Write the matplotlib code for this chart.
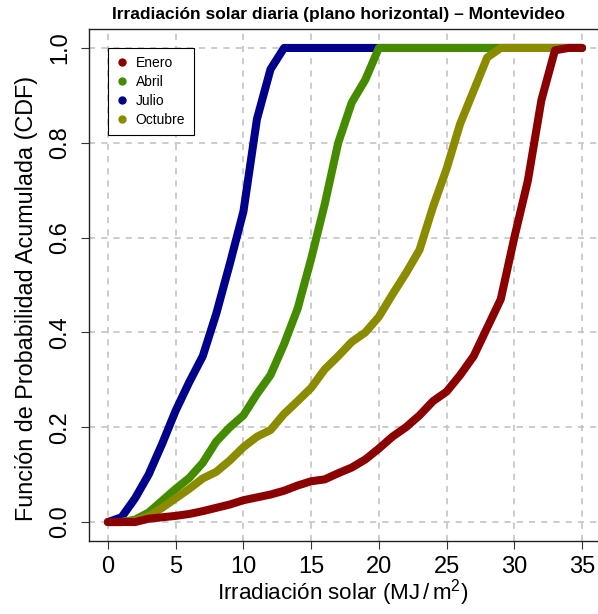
import matplotlib
matplotlib.use('Agg')
import matplotlib.pyplot as plt
from matplotlib.lines import Line2D
import numpy as np

plt.rcParams['font.family'] = ['Liberation Sans', 'DejaVu Sans']
plt.rcParams['mathtext.fontset'] = 'custom'
plt.rcParams['mathtext.rm'] = 'Liberation Sans'
plt.rcParams['mathtext.it'] = 'Liberation Sans:italic'

# irradiacion diaria (MJ/m2), un punto por unidad
irradiacion = list(range(0, 36))

enero = [0, 0, 0, 0.007, 0.01, 0.013, 0.017, 0.023, 0.03, 0.037, 0.046, 0.052,
         0.058, 0.066, 0.077, 0.086, 0.09, 0.103, 0.115, 0.132, 0.155, 0.18,
         0.2, 0.225, 0.255, 0.275, 0.31, 0.35, 0.41, 0.47, 0.6, 0.72, 0.89,
         0.995, 1.0, 1.0]
abril = [0, 0, 0.005, 0.02, 0.045, 0.07, 0.093, 0.125, 0.17, 0.2, 0.225, 0.27,
         0.31, 0.375, 0.45, 0.555, 0.67, 0.8, 0.885, 0.933, 1.0, 1.0, 1.0, 1.0,
         1.0, 1.0, 1.0, 1.0, 1.0, 1.0, 1.0, 1.0, 1.0, 1.0, 1.0, 1.0]
julio = [0, 0.01, 0.05, 0.10, 0.165, 0.235, 0.295, 0.35, 0.44, 0.545, 0.655,
         0.85, 0.955, 1.0, 1.0, 1.0, 1.0, 1.0, 1.0, 1.0, 1.0, 1.0, 1.0, 1.0,
         1.0, 1.0, 1.0, 1.0, 1.0, 1.0, 1.0, 1.0, 1.0, 1.0, 1.0, 1.0]
octubre = [0, 0, 0.003, 0.012, 0.03, 0.05, 0.07, 0.092, 0.106, 0.13, 0.158,
           0.18, 0.194, 0.228, 0.255, 0.283, 0.322, 0.35, 0.38, 0.4, 0.433,
           0.48, 0.525, 0.574, 0.665, 0.745, 0.84, 0.91, 0.98, 1.0, 1.0, 1.0,
           1.0, 1.0, 1.0, 1.0]

meses = ['Enero', 'Abril', 'Julio', 'Octubre']
colores = {'Enero': '#8B0000', 'Abril': '#458B00', 'Julio': '#00008B',
           'Octubre': '#8B8B00'}
series = {'Enero': enero, 'Abril': abril, 'Julio': julio, 'Octubre': octubre}
orden_dibujo = ['Julio', 'Abril', 'Octubre', 'Enero']

W, H = 598, 614
fig = plt.figure(figsize=(W / 100, H / 100), dpi=100)
ax = fig.add_axes([89 / W, (H - 541) / H, 512 / W, 512 / H])

ax.set_xlim(-1.4, 36.4)
ax.set_ylim(-0.04, 1.04)
ax.set_xticks(np.arange(0, 36, 5))
ax.set_yticks(np.arange(0, 1.01, 0.2))
ax.set_yticklabels(['%.1f' % v for v in np.arange(0, 1.01, 0.2)],
                   rotation=90, va='center')
ax.grid(True, color='#BEBEBE', linestyle=(0, (4, 4)), linewidth=1.1)
ax.set_axisbelow(True)

for m in orden_dibujo:
    ax.plot(irradiacion, series[m], color=colores[m], lw=5.8,
            solid_capstyle='round', solid_joinstyle='round')

ax.tick_params(labelsize=17, length=6, width=0.8, color='#333333', pad=5)
ax.tick_params(axis='y', pad=7)
for s in ax.spines.values():
    s.set_color('#222222')
    s.set_linewidth(1.0)

handles = [Line2D([], [], marker='o', linestyle='', color=colores[m],
                  markersize=5) for m in meses]
leg = ax.legend(handles, meses, loc='upper left', bbox_to_anchor=(0, 1.0),
                bbox_transform=ax.transData, borderaxespad=0, fontsize=10,
                fancybox=False, framealpha=1, edgecolor='black',
                handlelength=0.8, handletextpad=0.6, labelspacing=0.35,
                borderpad=0.6)
leg.get_frame().set_linewidth(0.8)

ax.set_xlabel('Irradiación solar (MJ$\\,/\\,$m$^{2}$)', fontsize=16.1)
ax.set_ylabel('Función de Probabilidad Acumulada (CDF)', fontsize=16.8)
ax.xaxis.set_label_coords(0.5 - 2 / 512, (541 - 593) / 512)
ax.xaxis.label.set_va('center')
ax.yaxis.set_label_coords((27 - 89) / 512, (541 - 298) / 512)
ax.yaxis.label.set_va('center')
fig.text(338 / W, 1 - 14 / H,
         'Irradiación solar diaria (plano horizontal) – Montevideo',
         ha='center', va='center', fontsize=12.5, fontweight='bold')

fig.savefig('out.png', dpi=100)
